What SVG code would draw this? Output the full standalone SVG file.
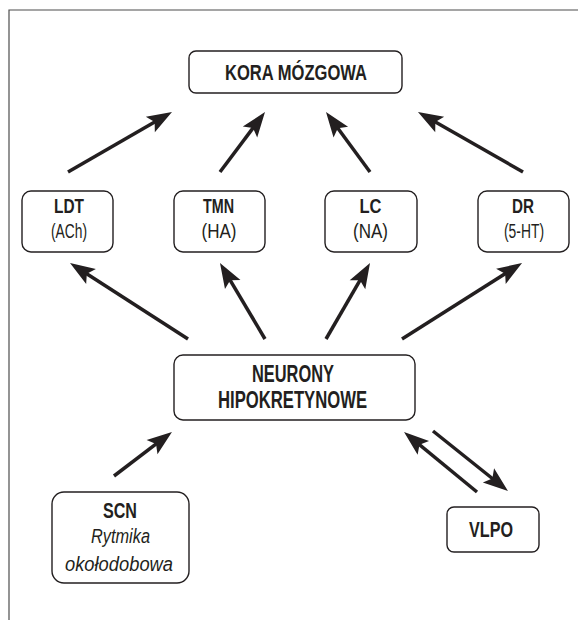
<svg xmlns="http://www.w3.org/2000/svg" width="578" height="620" viewBox="0 0 578 620">
<style>
.box{fill:#fff;stroke:#231f20;stroke-width:1.4}
.frame{fill:none;stroke:#4d4d4d;stroke-width:1.2}
.b{font-family:"Liberation Sans",Arial,sans-serif;font-weight:bold;fill:#231f20;text-anchor:middle}
.r{font-family:"Liberation Sans",Arial,sans-serif;fill:#231f20;text-anchor:middle}
.i{font-family:"Liberation Sans",Arial,sans-serif;font-style:italic;fill:#231f20;text-anchor:middle}
.arr{stroke:#231f20;stroke-width:3.5;fill:none;marker-end:url(#ah)}
</style>
<defs>
<marker id="ah" markerUnits="userSpaceOnUse" orient="auto" refX="0" refY="0" markerWidth="40" markerHeight="40" overflow="visible">
<path d="M12,0 L-13,-9 L-8,0 L-13,9 Z" fill="#231f20"/>
</marker>
</defs>
<path class="frame" d="M578,10 H9 V620"/>
<g id="kora">
<rect class="box" x="189" y="51" width="213" height="42" rx="7"/>
<text class="b" font-size="21.5" x="296" y="80" textLength="142" lengthAdjust="spacingAndGlyphs">KORA MÓZGOWA</text>
</g>
<g id="ldt">
<rect class="box" x="22" y="191" width="91" height="61" rx="9"/>
<text class="b" font-size="21" x="69" y="213" textLength="30" lengthAdjust="spacingAndGlyphs">LDT</text>
<text class="r" font-size="19.5" x="69" y="238" textLength="36" lengthAdjust="spacingAndGlyphs">(ACh)</text>
</g>
<g id="tmn">
<rect class="box" x="174" y="191" width="91" height="61" rx="9"/>
<text class="b" font-size="21" x="218.5" y="213" textLength="31" lengthAdjust="spacingAndGlyphs">TMN</text>
<text class="r" font-size="19.5" x="219" y="238" textLength="35" lengthAdjust="spacingAndGlyphs">(HA)</text>
</g>
<g id="lc">
<rect class="box" x="325" y="191" width="92" height="61" rx="9"/>
<text class="b" font-size="21" x="370.5" y="213" textLength="22" lengthAdjust="spacingAndGlyphs">LC</text>
<text class="r" font-size="19.5" x="370.5" y="238" textLength="35" lengthAdjust="spacingAndGlyphs">(NA)</text>
</g>
<g id="dr">
<rect class="box" x="478" y="191" width="91" height="61" rx="9"/>
<text class="b" font-size="21" x="523" y="213" textLength="22" lengthAdjust="spacingAndGlyphs">DR</text>
<text class="r" font-size="19.5" x="524" y="238" textLength="40" lengthAdjust="spacingAndGlyphs">(5-HT)</text>
</g>
<g id="neurony">
<rect class="box" x="174" y="355" width="241" height="65" rx="9"/>
<text class="b" font-size="23" x="293" y="382" textLength="82" lengthAdjust="spacingAndGlyphs">NEURONY</text>
<text class="b" font-size="23" x="292.5" y="408" textLength="149" lengthAdjust="spacingAndGlyphs">HIPOKRETYNOWE</text>
</g>
<g id="scn">
<rect class="box" x="52" y="492" width="137" height="91" rx="12"/>
<text class="b" font-size="22" x="120" y="518" textLength="34" lengthAdjust="spacingAndGlyphs">SCN</text>
<text class="i" font-size="20.5" x="120.5" y="543" textLength="59" lengthAdjust="spacingAndGlyphs">Rytmika</text>
<text class="i" font-size="20.5" x="119" y="571" textLength="108" lengthAdjust="spacingAndGlyphs">okołodobowa</text>
</g>
<g id="vlpo">
<rect class="box" x="447" y="507" width="92" height="45" rx="7"/>
<text class="b" font-size="22.5" x="491" y="537" textLength="44" lengthAdjust="spacingAndGlyphs">VLPO</text>
</g>
<g id="connectors">
<line class="arr" x1="68" y1="172" x2="161.6" y2="118"/>
<line class="arr" x1="220" y1="172" x2="257.8" y2="121.6"/>
<line class="arr" x1="370" y1="172" x2="333.1" y2="121.7"/>
<line class="arr" x1="523" y1="172" x2="428.4" y2="118"/>
<line class="arr" x1="188" y1="339" x2="80.1" y2="269.5"/>
<line class="arr" x1="265" y1="339" x2="226.1" y2="273.3"/>
<line class="arr" x1="326" y1="339" x2="364" y2="273.4"/>
<line class="arr" x1="402" y1="339" x2="511.9" y2="269.4"/>
<line class="arr" x1="114" y1="476" x2="162.4" y2="439.2"/>
<line class="arr" x1="477" y1="492" x2="413.3" y2="439.6"/>
<line class="arr" x1="433" y1="431" x2="498.6" y2="483.5"/>
</g>
</svg>
